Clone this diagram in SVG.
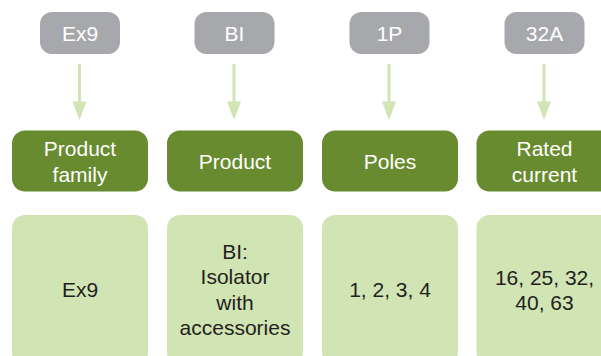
<svg xmlns="http://www.w3.org/2000/svg" width="601" height="356" viewBox="0 0 601 356">
<defs>
<style>
.gray{fill:#a7a8ab}
.dark{fill:#678b2e}
.light{fill:#d1e4b3}
.t{font-family:"Liberation Sans",Arial,sans-serif;font-size:21px;text-anchor:middle}
.w{fill:#ffffff}
.k{fill:#231f20}
.ln{stroke:#d1e4b3;stroke-width:3;fill:none}
.ah{fill:#d1e4b3}
</style>
</defs>
<rect width="601" height="356" fill="#ffffff"/>
<g id="code-ex9"><rect class="gray" x="40" y="12" width="80" height="42" rx="12"/><text class="t w" x="80" y="41">Ex9</text></g>
<g id="code-bi"><rect class="gray" x="194.5" y="12" width="80" height="42" rx="12"/><text class="t w" x="234.5" y="41">BI</text></g>
<g id="code-1p"><rect class="gray" x="349.5" y="12" width="80" height="42" rx="12"/><text class="t w" x="389.5" y="41">1P</text></g>
<g id="code-32a"><rect class="gray" x="504.5" y="12" width="80" height="42" rx="12"/><text class="t w" x="544.5" y="41">32A</text></g>
<g id="connectors">
<line class="ln" x1="79.5" y1="64" x2="79.5" y2="103"/><polygon class="ah" points="72.5,101.5 86.5,101.5 79.5,120"/>
<line class="ln" x1="234" y1="64" x2="234" y2="103"/><polygon class="ah" points="227,101.5 241,101.5 234,120"/>
<line class="ln" x1="389" y1="64" x2="389" y2="103"/><polygon class="ah" points="382,101.5 396,101.5 389,120"/>
<line class="ln" x1="544" y1="64" x2="544" y2="103"/><polygon class="ah" points="537,101.5 551,101.5 544,120"/>
</g>
<g id="hdr-family"><rect class="dark" x="12" y="130.5" width="136" height="61" rx="13"/><text class="t w" x="80" y="156">Product</text><text class="t w" x="80" y="181.5">family</text></g>
<g id="hdr-product"><rect class="dark" x="167" y="130.5" width="136" height="61" rx="13"/><text class="t w" x="235" y="169">Product</text></g>
<g id="hdr-poles"><rect class="dark" x="322" y="130.5" width="136" height="61" rx="13"/><text class="t w" x="390" y="169">Poles</text></g>
<g id="hdr-current"><rect class="dark" x="476.5" y="130.5" width="136" height="61" rx="13"/><text class="t w" x="544.5" y="156">Rated</text><text class="t w" x="544.5" y="181.5">current</text></g>
<g id="val-family"><rect class="light" x="12" y="215" width="136" height="150" rx="13"/><text class="t k" x="80" y="296.5">Ex9</text></g>
<g id="val-product"><rect class="light" x="167" y="215" width="136" height="150" rx="13"/><text class="t k" x="235" y="258.5">BI:</text><text class="t k" x="235" y="284">Isolator</text><text class="t k" x="235" y="309.5">with</text><text class="t k" x="235" y="335">accessories</text></g>
<g id="val-poles"><rect class="light" x="322" y="215" width="136" height="150" rx="13"/><text class="t k" x="390" y="296.5">1, 2, 3, 4</text></g>
<g id="val-current"><rect class="light" x="476.5" y="215" width="136" height="150" rx="13"/><text class="t k" x="544.5" y="284.5">16, 25, 32,</text><text class="t k" x="544.5" y="310">40, 63</text></g>
</svg>
